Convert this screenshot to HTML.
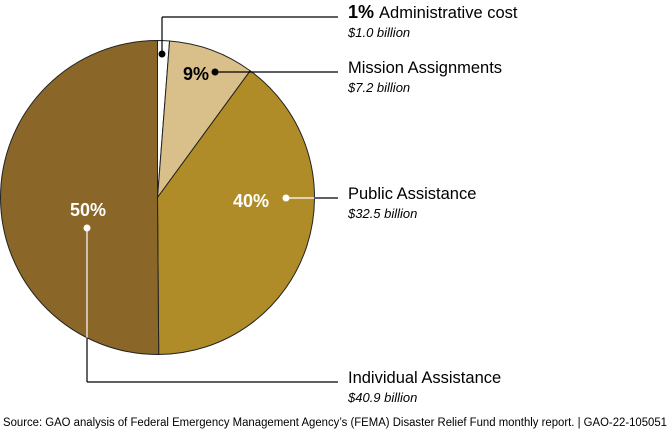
<!DOCTYPE html>
<html><head><meta charset="utf-8"><style>
body{margin:0;background:#fff;width:672px;height:432px;overflow:hidden;font-family:"Liberation Sans",sans-serif}
</style></head><body>
<svg width="672" height="432" viewBox="0 0 672 432" xmlns="http://www.w3.org/2000/svg">
<g id="slices"></g>
<g id="leaders"></g>
<g id="labels" font-family="Liberation Sans, sans-serif"></g>
<text x="3" y="426" font-size="11.5" fill="#000" textLength="664" lengthAdjust="spacingAndGlyphs">Source: GAO analysis of Federal Emergency Management Agency’s (FEMA) Disaster Relief Fund monthly report.  |  GAO-22-105051</text>
</svg>
<script>
const categories=["Administrative cost","Mission Assignments","Public Assistance","Individual Assistance"];
const values=[1.0,7.2,32.5,40.9];
const pctLabels=["1%","9%","40%","50%"];
const amountLabels=["$1.0 billion","$7.2 billion","$32.5 billion","$40.9 billion"];
const colors=["#ffffff","#d9c08a","#b08c28","#8a6628"];
const NS="http://www.w3.org/2000/svg";
const cx=157.5,cy=197.5,r=157;
const total=values.reduce((a,b)=>a+b,0);
function pt(a,rr){return [cx+rr*Math.sin(a),cy-rr*Math.cos(a)];}
const gS=document.getElementById('slices'),gL=document.getElementById('leaders'),gT=document.getElementById('labels');
let acc=0;
values.forEach((v,i)=>{
 const a0=acc/total*2*Math.PI;acc+=v;const a1=acc/total*2*Math.PI;
 const p0=pt(a0,r),p1=pt(a1,r);
 const p=document.createElementNS(NS,'path');
 p.setAttribute('d',`M${cx},${cy}L${p0[0]},${p0[1]}A${r},${r} 0 ${a1-a0>Math.PI?1:0} 1 ${p1[0]},${p1[1]}Z`);
 p.setAttribute('fill',colors[i]);p.setAttribute('stroke','#222');p.setAttribute('stroke-width','1');
 
 
 gS.appendChild(p);
});
const labelY=[17,72,198,382];
const lx=348;
function line(x1,y1,x2,y2,c){const l=document.createElementNS(NS,'line');l.setAttribute('x1',x1);l.setAttribute('y1',y1);l.setAttribute('x2',x2);l.setAttribute('y2',y2);l.setAttribute('stroke',c);l.setAttribute('stroke-width','1.2');gL.appendChild(l);}
function txt(x,y,s,size,weight,fill,style,name,anchor){const t=document.createElementNS(NS,'text');t.setAttribute('x',x);t.setAttribute('y',y);t.setAttribute('font-size',size);if(weight)t.setAttribute('font-weight',weight);t.setAttribute('fill',fill);if(style)t.setAttribute('font-style',style);if(anchor)t.setAttribute('text-anchor',anchor);t.textContent=s;


gT.appendChild(t);return t;}
function dot(x,y,c){const d=document.createElementNS(NS,'circle');d.setAttribute('cx',x);d.setAttribute('cy',y);d.setAttribute('r',3.5);d.setAttribute('fill',c);


gL.appendChild(d);}
// admin
line(162,54,162,labelY[0],'#000');line(162,labelY[0],338,labelY[0],'#000');dot(162,54,'#000');
// mission
txt(209,80,pctLabels[1],18,'bold','#000',null,'pct-mission','end');
line(215,72,338,72,'#000');dot(215,72,'#000');
// public
txt(269,207,pctLabels[2],18,'bold','#fff',null,'pct-public','end');
{const ex=cx+Math.sqrt(r*r-(198-cy)**2);line(286,198,ex,198,'#fff');line(ex,198,338,198,'#000');dot(286,198,'#fff');}
// individual
txt(88,216,pctLabels[3],18,'bold','#fff',null,'pct-individual','middle');
{const ey=cy+Math.sqrt(r*r-(87-cx)**2);line(87,228,87,ey,'#fff');line(87,ey,87,labelY[3],'#000');line(87,labelY[3],338,labelY[3],'#000');dot(87,228,'#fff');}
// right labels
const t0=txt(lx,labelY[0]+1,'',16.5,null,'#000',null,'label-admin');
const b=document.createElementNS(NS,'tspan');b.setAttribute('font-weight','bold');b.setAttribute('font-size','18');b.textContent=pctLabels[0]+' ';t0.appendChild(b);
const n=document.createElementNS(NS,'tspan');n.textContent=categories[0];t0.appendChild(n);
txt(lx,labelY[0]+20,amountLabels[0],13,null,'#000','italic','amount-admin');
for(let i=1;i<4;i++){
 txt(lx,labelY[i]+1,categories[i],16.5,null,'#000',null,'label-'+i);
 txt(lx,labelY[i]+20,amountLabels[i],13,null,'#000','italic','amount-'+i);
}
</script>
</body></html>
